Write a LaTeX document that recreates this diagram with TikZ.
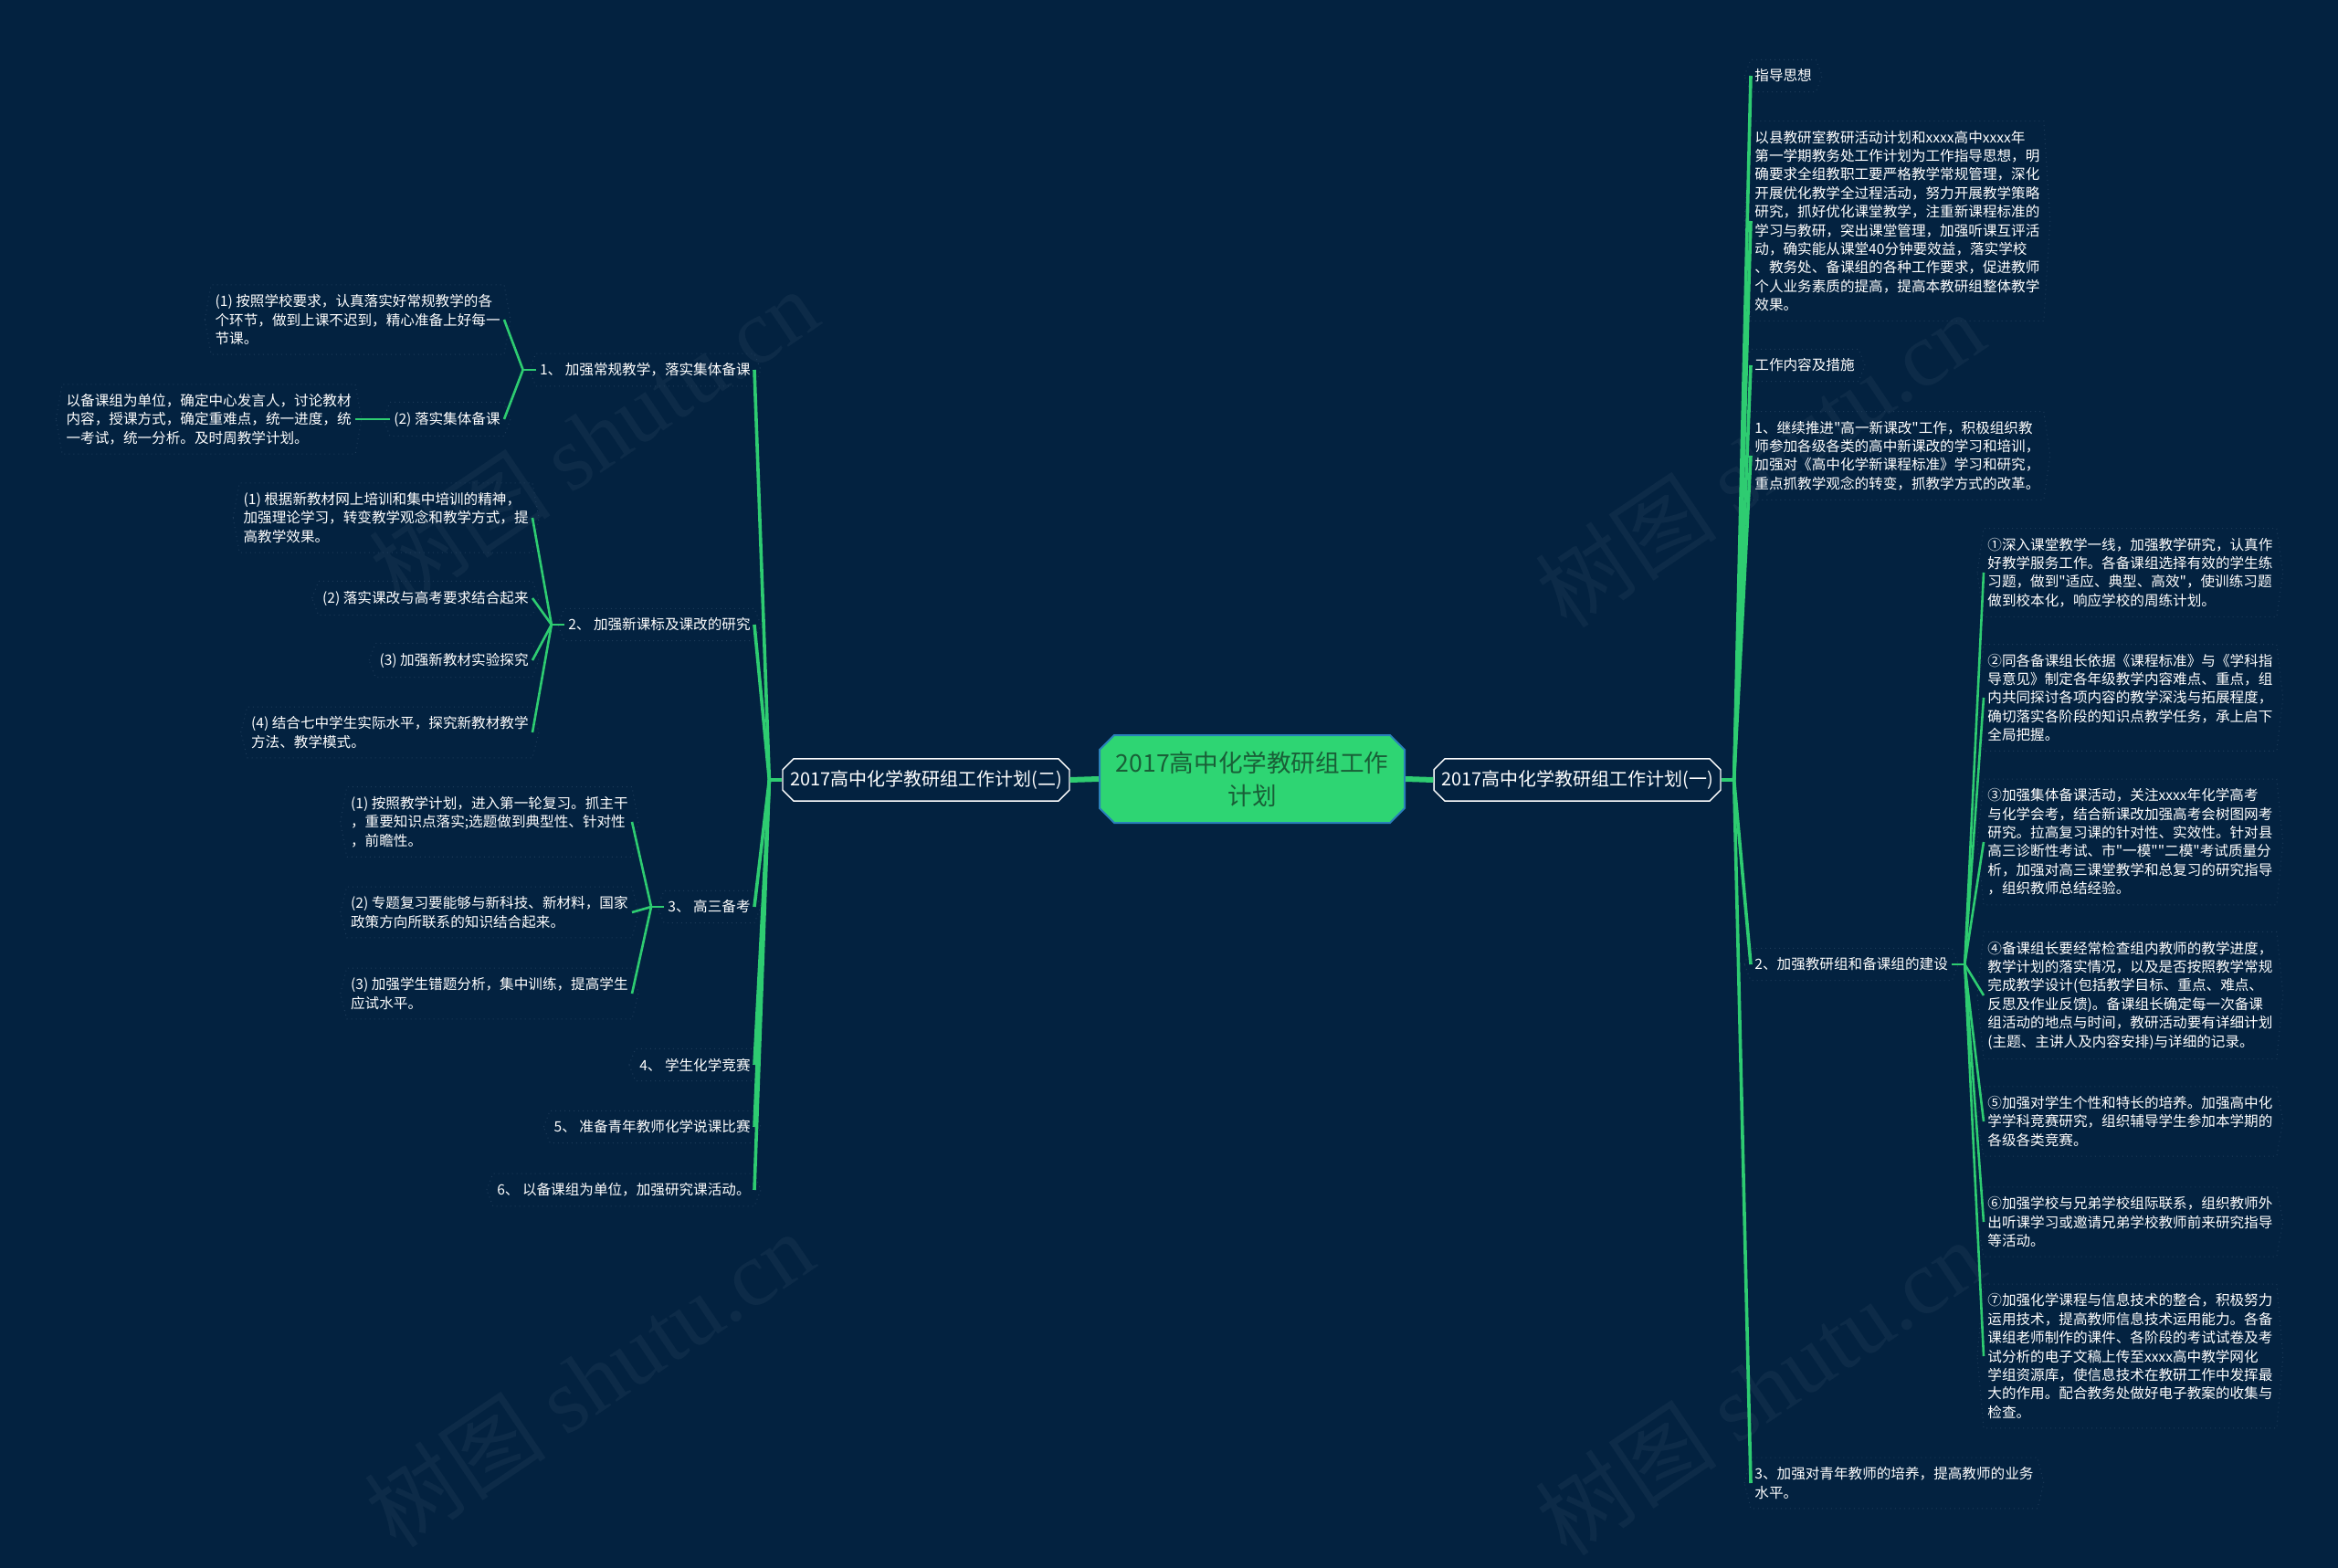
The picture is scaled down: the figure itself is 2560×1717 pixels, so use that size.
\documentclass[tikz,border=0pt]{standalone}
\usepackage{fontspec}
\setmainfont{Noto Sans CJK SC}[Ligatures=TeXOff]
\newfontfamily\stampfont{Liberation Serif}
\usetikzlibrary{shapes.misc}

\definecolor{navy}{RGB}{3,34,64}
\definecolor{mapgreen}{RGB}{46,204,113}
\definecolor{rootgreen}{RGB}{46,213,115}
\definecolor{roottext}{RGB}{25,95,55}
\definecolor{rootedge}{RGB}{41,128,185}
\definecolor{leafedge}{RGB}{28,58,88}

\begin{document}
\begin{tikzpicture}[
    x=0.5pt, y=-0.5pt,
    rootbox/.style={chamfered rectangle, chamfered rectangle sep=4pt,
                    fill=rootgreen, draw=rootedge, line width=1pt, text=roottext, align=center,
                    minimum width=167pt, minimum height=48pt, inner sep=2pt,
                    font=\fontsize{13.3pt}{18pt}\selectfont},
    planbox/.style={chamfered rectangle, chamfered rectangle sep=3pt, fill=navy, draw=white,
                    line width=0.7pt, text=white, minimum height=23pt, inner xsep=1pt,
                    font=\fontsize{10pt}{12pt}\selectfont},
    topic/.style={text=white, align=left, inner xsep=2pt, inner ysep=5pt,
                  font=\fontsize{7.8pt}{10.2pt}\selectfont},
    tipline/.style={leafedge, dotted, line width=0.5pt},
    trunk/.style={mapgreen, line width=3pt},
    limb/.style={mapgreen, line width=1.8pt},
    twig/.style={mapgreen, line width=1.3pt},
    stamp/.style={text=white, opacity=0.045, rotate=34, font=\fontsize{50pt}{50pt}\selectfont},
]
\useasboundingbox[fill=navy] (0,0) rectangle (2560,1717);

% Watermarks
\node[stamp] (wm1) at (650,478)   {树图 {\stampfont shutu.cn}};
\node[stamp] (wm2) at (1927,503)  {树图 {\stampfont shutu.cn}};
\node[stamp] (wm3) at (645,1510)  {树图 {\stampfont shutu.cn}};
\node[stamp] (wm4) at (1927,1519) {树图 {\stampfont shutu.cn}};

% Centre and the two plans
\node[rootbox] (root) at (1371,853) {2017高中化学教研组工作\\计划};
\node[planbox] (R) at (1727,854) {2017高中化学教研组工作计划(一)};
\node[planbox] (L) at (1014,854) {2017高中化学教研组工作计划(二)};

% Plan (一)
\node[topic, anchor=west] (r1) at (1917,83)   {指导思想};
\node[topic, anchor=west] (r2) at (1917,242)  {以县教研室教研活动计划和xxxx高中xxxx年\\第一学期教务处工作计划为工作指导思想，明\\确要求全组教职工要严格教学常规管理，深化\\开展优化教学全过程活动，努力开展教学策略\\研究，抓好优化课堂教学，注重新课程标准的\\学习与教研，突出课堂管理，加强听课互评活\\动，确实能从课堂40分钟要效益，落实学校\\、教务处、备课组的各种工作要求，促进教师\\个人业务素质的提高，提高本教研组整体教学\\效果。};
\node[topic, anchor=west] (r3) at (1917,400)  {工作内容及措施};
\node[topic, anchor=west] (r4) at (1917,499)  {1、继续推进"高一新课改"工作，积极组织教\\师参加各级各类的高中新课改的学习和培训，\\加强对《高中化学新课程标准》学习和研究，\\重点抓教学观念的转变，抓教学方式的改革。};
\node[topic, anchor=west] (r5) at (1917,1056) {2、加强教研组和备课组的建设};
\node[topic, anchor=west] (r6) at (1917,1624) {3、加强对青年教师的培养，提高教师的业务\\水平。};

% Building of the groups
\node[topic, anchor=west] (s1) at (2172,627)  {①深入课堂教学一线，加强教学研究，认真作\\好教学服务工作。各备课组选择有效的学生练\\习题，做到"适应、典型、高效"，使训练习题\\做到校本化，响应学校的周练计划。};
\node[topic, anchor=west] (s2) at (2172,764)  {②同各备课组长依据《课程标准》与《学科指\\导意见》制定各年级教学内容难点、重点，组\\内共同探讨各项内容的教学深浅与拓展程度，\\确切落实各阶段的知识点教学任务，承上启下\\全局把握。};
\node[topic, anchor=west] (s3) at (2172,922)  {③加强集体备课活动，关注xxxx年化学高考\\与化学会考，结合新课改加强高考会树图网考\\研究。拉高复习课的针对性、实效性。针对县\\高三诊断性考试、市"一模""二模"考试质量分\\析，加强对高三课堂教学和总复习的研究指导\\，组织教师总结经验。};
\node[topic, anchor=west] (s4) at (2172,1090) {④备课组长要经常检查组内教师的教学进度，\\教学计划的落实情况，以及是否按照教学常规\\完成教学设计(包括教学目标、重点、难点、\\反思及作业反馈)。备课组长确定每一次备课\\组活动的地点与时间，教研活动要有详细计划\\(主题、主讲人及内容安排)与详细的记录。};
\node[topic, anchor=west] (s5) at (2172,1228) {⑤加强对学生个性和特长的培养。加强高中化\\学学科竞赛研究，组织辅导学生参加本学期的\\各级各类竞赛。};
\node[topic, anchor=west] (s6) at (2172,1338) {⑥加强学校与兄弟学校组际联系，组织教师外\\出听课学习或邀请兄弟学校教师前来研究指导\\等活动。};
\node[topic, anchor=west] (s7) at (2172,1485) {⑦加强化学课程与信息技术的整合，积极努力\\运用技术，提高教师信息技术运用能力。各备\\课组老师制作的课件、各阶段的考试试卷及考\\试分析的电子文稿上传至xxxx高中教学网化\\学组资源库，使信息技术在教研工作中发挥最\\大的作用。配合教务处做好电子教案的收集与\\检查。};

% Plan (二)
\node[topic, anchor=east] (l1) at (826,405)  {1、 加强常规教学，落实集体备课};
\node[topic, anchor=east] (l2) at (826,684)  {2、 加强新课标及课改的研究};
\node[topic, anchor=east] (l3) at (826,993)  {3、 高三备考};
\node[topic, anchor=east] (l4) at (826,1166) {4、 学生化学竞赛};
\node[topic, anchor=east] (l5) at (826,1234) {5、 准备青年教师化学说课比赛};
\node[topic, anchor=east] (l6) at (826,1303) {6、 以备课组为单位，加强研究课活动。};

\node[topic, anchor=east] (l1a)  at (552,350) {(1) 按照学校要求，认真落实好常规教学的各\\个环节，做到上课不迟到，精心准备上好每一\\节课。};
\node[topic, anchor=east] (l1b)  at (552,459) {(2) 落实集体备课};
\node[topic, anchor=east] (l1b1) at (389,459) {以备课组为单位，确定中心发言人，讨论教材\\内容，授课方式，确定重难点，统一进度，统\\一考试，统一分析。及时周教学计划。};

\node[topic, anchor=east] (l2a) at (583,567) {(1) 根据新教材网上培训和集中培训的精神，\\加强理论学习，转变教学观念和教学方式，提\\高教学效果。};
\node[topic, anchor=east] (l2b) at (583,655) {(2) 落实课改与高考要求结合起来};
\node[topic, anchor=east] (l2c) at (583,723) {(3) 加强新教材实验探究};
\node[topic, anchor=east] (l2d) at (583,802) {(4) 结合七中学生实际水平，探究新教材教学\\方法、教学模式。};

\node[topic, anchor=east] (l3a) at (692,900)  {(1) 按照教学计划，进入第一轮复习。抓主干\\，重要知识点落实;选题做到典型性、针对性\\，前瞻性。};
\node[topic, anchor=east] (l3b) at (692,999)  {(2) 专题复习要能够与新科技、新材料，国家\\政策方向所联系的知识结合起来。};
\node[topic, anchor=east] (l3c) at (692,1088) {(3) 加强学生错题分析，集中训练，提高学生\\应试水平。};

% Faint outlines
\foreach \n in {r1,r2,r3,r4,r5,r6,s1,s2,s3,s4,s5,s6,s7,l1,l2,l3,l4,l5,l6,l1a,l1b,l1b1,l2a,l2b,l2c,l2d,l3a,l3b,l3c}
  \draw[tipline] ([xshift=-3.5pt]\n.west) -- (\n.north west) -- (\n.north east)
                 -- ([xshift=3.5pt]\n.east) -- (\n.south east) -- (\n.south west) -- cycle;

% Junctions
\coordinate (Rj)  at ([xshift=7pt]R.east);
\coordinate (Lj)  at ([xshift=-7pt]L.west);
\coordinate (r5j) at ([xshift=7pt]r5.east);
\coordinate (l1j) at ([xshift=-7pt]l1.west);
\coordinate (l2j) at ([xshift=-7pt]l2.west);
\coordinate (l3j) at ([xshift=-7pt]l3.west);

% Connectors
\draw[trunk] (root.east) -- (R.west);
\draw[trunk] (root.west) -- (L.east);
\draw[limb] (R.east) -- (Rj);
\draw[limb] (L.west) -- (Lj);
\foreach \c in {r1,r2,r3,r4,r5,r6}
  \draw[limb] (Rj) -- (\c.west);
\foreach \c in {l1,l2,l3,l4,l5,l6}
  \draw[limb] (Lj) -- (\c.east);

\draw[twig] (r5.east) -- (r5j);
\foreach \c in {s1,s2,s3,s4,s5,s6,s7}
  \draw[twig] (r5j) -- (\c.west);

\draw[twig] (l1.west) -- (l1j);
\foreach \c in {l1a,l1b}
  \draw[twig] (l1j) -- (\c.east);
\draw[twig] (l1b.west) -- (l1b1.east);

\draw[twig] (l2.west) -- (l2j);
\foreach \c in {l2a,l2b,l2c,l2d}
  \draw[twig] (l2j) -- (\c.east);

\draw[twig] (l3.west) -- (l3j);
\foreach \c in {l3a,l3b,l3c}
  \draw[twig] (l3j) -- (\c.east);
\end{tikzpicture}
\end{document}
